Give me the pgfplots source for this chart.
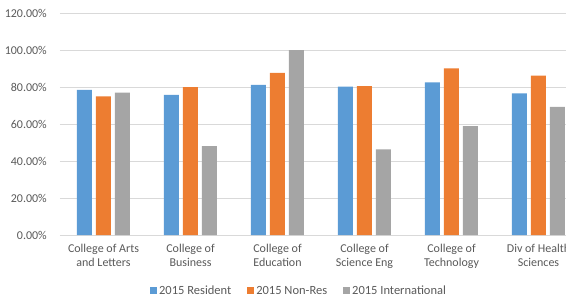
\documentclass[border=0pt]{standalone}
\usepackage{pgfplots}
\pgfplotsset{compat=1.18}
\usepackage{fontspec}
\setmainfont{Carlito}
\definecolor{cblue}{HTML}{5B9BD5}
\definecolor{corange}{HTML}{ED7D31}
\definecolor{cgray}{HTML}{A5A5A5}
\definecolor{cgrid}{HTML}{D9D9D9}
\definecolor{ctext}{HTML}{595959}
\begin{document}
\begin{tikzpicture}[x=1pt,y=1pt]
\path[use as bounding box] (0,0) rectangle (566,301);
\clip (0,0) rectangle (566,301);
\begin{axis}[
  at={(60pt,66pt)}, anchor=south west,
  scale only axis, width=522pt, height=222pt,
  xmin=-0.5, xmax=5.5, ymin=0, ymax=120,
  ybar=4pt, bar width=15pt,
  xtick={0,1,2,3,4,5},
  xticklabels={{College of Arts\\and Letters},{College of\\Business},{College of\\Education},{College of\\Science Eng},{College of\\Technology},{Div of Health\\Sciences}},
  ytick={0,20,40,60,80,100,120},
  yticklabel={\pgfmathprintnumber[fixed,fixed zerofill,precision=2]{\tick}\%},
  /pgf/number format/assume math mode=true,
  ymajorgrids, grid style={cgrid, line width=0.8pt},
  axis x line*=bottom, axis y line*=left,
  x axis line style={cgrid, line width=0.8pt, -},
  y axis line style={draw=none},
  major tick length=0pt,
  tick style={draw=none},
  ticklabel style={font=\fontsize{12}{14.3}\selectfont, text=ctext},
  yticklabel style={inner sep=0pt, anchor=east, xshift=-13pt},
  xticklabel style={align=center, inner sep=0pt, anchor=north, yshift=-9pt},
  legend style={at={(0.458,-0.252)}, anchor=center, draw=none, fill=none,
    legend columns=3, font=\fontsize{12.5}{14}\selectfont, text=ctext,
    /tikz/every even column/.append style={column sep=14pt}},
  legend image code/.code={\fill[#1] (0pt,-3.5pt) rectangle (7pt,3.5pt);},
  legend cell align=left,
  clip=false,
]
\addplot[fill=cblue, draw=none] coordinates {(0,78.4) (1,75.7) (2,81.2) (3,80.2) (4,82.5) (5,76.6)};
\addplot[fill=corange, draw=none] coordinates {(0,75.0) (1,80.0) (2,87.6) (3,80.5) (4,90.1) (5,86.1)};
\addplot[fill=cgray, draw=none] coordinates {(0,76.9) (1,48.1) (2,100.0) (3,46.3) (4,58.8) (5,69.2)};
\legend{2015 Resident, 2015 Non-Res, 2015 International}
\end{axis}
\end{tikzpicture}
\end{document}
